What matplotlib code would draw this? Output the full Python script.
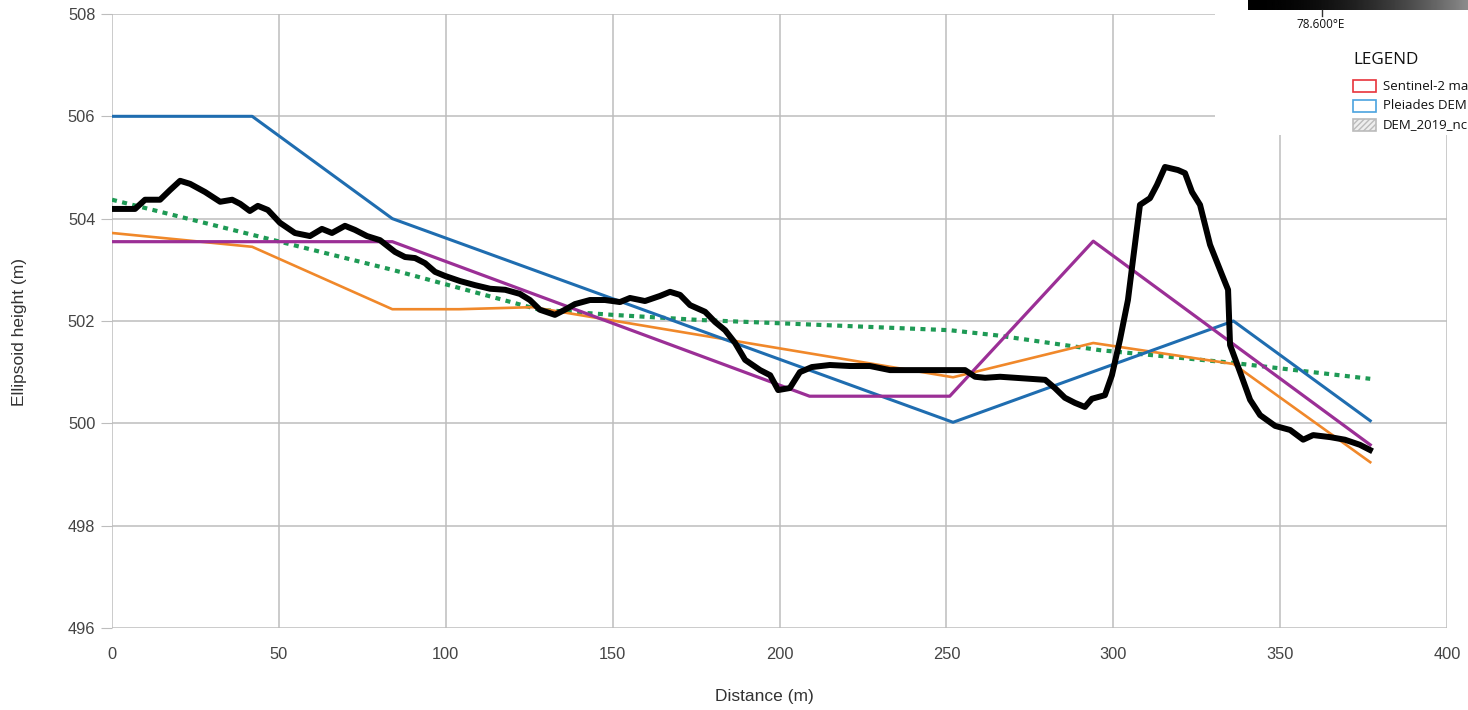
import numpy as np
import matplotlib
matplotlib.use("Agg")
import matplotlib.pyplot as plt
from matplotlib.patches import Rectangle

plt.rcParams['font.family'] = ['Liberation Sans', 'DejaVu Sans']

# ---- data ----
black_x = [0, 6.9, 9.9, 14.4, 17.4, 20.4, 23.4, 27.9, 32.4, 36.0, 38.4, 41.3, 43.7, 46.7,
           50.3, 54.8, 59.3, 62.9, 65.9, 69.8, 72.8, 76.4, 80.3, 84.8, 87.8, 90.8, 93.8,
           96.8, 99.8, 104.3, 108.8, 113.3, 117.8, 122.2, 125.2, 128.2, 132.7, 135.7,
           138.7, 143.2, 147.7, 152.2, 155.2, 159.7, 164.2, 167.2, 170.2, 173.2, 177.7,
           180.7, 183.7, 186.7, 189.7, 194.2, 197.2, 199.6, 203.1, 206.1, 209.7, 215.1,
           221.1, 227.1, 233.1, 239.1, 245.1, 251.1, 255.6, 258.6, 261.6, 266.1, 270.6,
           275.1, 279.6, 282.5, 285.5, 288.5, 291.5, 293.6, 297.5, 299.6, 302.0, 304.4,
           305.9, 308.0, 311.0, 313.1, 315.5, 319.4, 321.5, 323.6, 326.0, 329.0, 332.6,
           334.4, 335.0, 338.0, 341.0, 344.0, 348.5, 353.0, 356.9, 359.9, 365.0, 369.4,
           373.9, 376.9]
black_y = [504.19, 504.19, 504.37, 504.37, 504.56, 504.74, 504.68, 504.52, 504.33, 504.37,
           504.29, 504.15, 504.25, 504.17, 503.92, 503.72, 503.66, 503.80, 503.72, 503.86,
           503.78, 503.66, 503.58, 503.35, 503.25, 503.23, 503.13, 502.96, 502.88, 502.78,
           502.70, 502.63, 502.61, 502.53, 502.41, 502.22, 502.12, 502.22, 502.33, 502.41,
           502.41, 502.37, 502.45, 502.39, 502.49, 502.57, 502.51, 502.31, 502.18, 501.98,
           501.82, 501.57, 501.24, 501.04, 500.94, 500.65, 500.69, 501.00, 501.10, 501.14,
           501.12, 501.12, 501.04, 501.04, 501.04, 501.04, 501.04, 500.91, 500.89, 500.91,
           500.89, 500.87, 500.85, 500.69, 500.50, 500.40, 500.32, 500.48, 500.55, 500.94,
           501.63, 502.41, 503.19, 504.27, 504.40, 504.66, 505.01, 504.95, 504.89, 504.52,
           504.27, 503.49, 502.90, 502.61, 501.53, 501.00, 500.46, 500.16, 499.95, 499.87,
           499.68, 499.77, 499.73, 499.68, 499.58, 499.48]

blue_x = [0, 42, 84, 252, 336, 377]
blue_y = [506.0, 506.0, 504.0, 500.02, 502.0, 500.05]

orange_x = [0, 42, 84, 104, 126, 252, 294, 336, 377]
orange_y = [503.72, 503.45, 502.23, 502.23, 502.27, 500.90, 501.57, 501.16, 499.24]

purple_x = [0, 84, 209, 251, 294, 377]
purple_y = [503.55, 503.55, 500.53, 500.53, 503.56, 499.58]

green_x = [0, 84, 128, 150, 176, 221, 251, 265, 296, 336, 377]
green_y = [504.37, 503.0, 502.22, 502.12, 502.02, 501.90, 501.82, 501.72, 501.43, 501.18, 500.87]

x_ticks = [0, 50, 100, 150, 200, 250, 300, 350, 400]
y_ticks = [496, 498, 500, 502, 504, 506, 508]

legend_labels = ["Sentinel-2 ma", "Pleiades DEM", "DEM_2019_nc"]

# ---- figure ----
fig = plt.figure(figsize=(14.68, 7.10), dpi=100)
ax = fig.add_axes([0.0763, 0.1155, 0.9094, 0.8648])

ax.plot(green_x, green_y, color='#1e9a55', lw=3.0, ls=(0, (1.2, 1.3)), zorder=3)
ax.plot(orange_x, orange_y, color='#f0882a', lw=1.9, zorder=4)
ax.plot(blue_x, blue_y, color='#1f6db0', lw=2.2, zorder=5)
ax.plot(purple_x, purple_y, color='#9b2f96', lw=2.3, zorder=6)
ax.plot(black_x, black_y, color='black', lw=4.3, zorder=7, solid_joinstyle='round')

ax.set_xlim(0, 400)
ax.set_ylim(496, 508)
ax.set_xticks(x_ticks)
ax.set_yticks(y_ticks)
ax.grid(True, color='#bdbdbd', lw=1.1)
for s in ax.spines.values():
    s.set_visible(False)
ax.tick_params(axis='y', length=8, color='#bdbdbd', labelsize=11.8, labelcolor='#444444', pad=4)
ax.tick_params(axis='x', length=0, labelsize=11.8, labelcolor='#444444', pad=14)
ax.set_xlabel('Distance (m)', fontsize=12.5, color='#333333', va='center')
ax.set_ylabel('Ellipsoid height (m)', fontsize=12.5, color='#333333', va='center')
ax.xaxis.set_label_coords(0.489, -0.112)
ax.yaxis.set_label_coords(-0.069, 0.482)

# ---- overlay (map legend fragment) ----
ov = fig.add_axes([1215 / 1468, 1 - 135 / 710, 253 / 1468, 135 / 710], zorder=10)
ov.set_xlim(0, 253)
ov.set_ylim(135, 0)
ov.axis('off')
ov.add_patch(Rectangle((0, 0), 253, 135, facecolor='white', edgecolor='none'))
grad = np.linspace(0, 1, 256) ** 2 * 0.55
ov.imshow(grad[None, :], cmap='gray', vmin=0, vmax=1, aspect='auto',
          extent=[33, 253, 10, 0], zorder=2)
ov.plot([107, 107], [10, 16], color='#333333', lw=1)
ov.text(106, 24, '78.600°E', fontsize=8.5, ha='center', va='center',
        family=['Open Sans', 'DejaVu Sans'], color='#111111')
ov.text(138, 60, 'LEGEND', fontsize=12.3, ha='left', va='center',
        family=['Open Sans', 'DejaVu Sans'], color='#111111')
box_cols = [('none', '#e8333b', None), ('none', '#4aa3df', None), ('#eeeeee', '#bbbbbb', '//////')]
for i, (lab, (fc, ec, h)) in enumerate(zip(legend_labels, box_cols)):
    yc = 86 + i * 19.5
    ov.add_patch(Rectangle((138, yc - 6), 23, 12, facecolor=fc, edgecolor=ec,
                           lw=1.2, hatch=h, zorder=3))
    ov.text(168, yc, lab, fontsize=9.5, ha='left', va='center',
            family=['Open Sans', 'DejaVu Sans'], color='#111111')

fig.savefig('out.png', dpi=100)
